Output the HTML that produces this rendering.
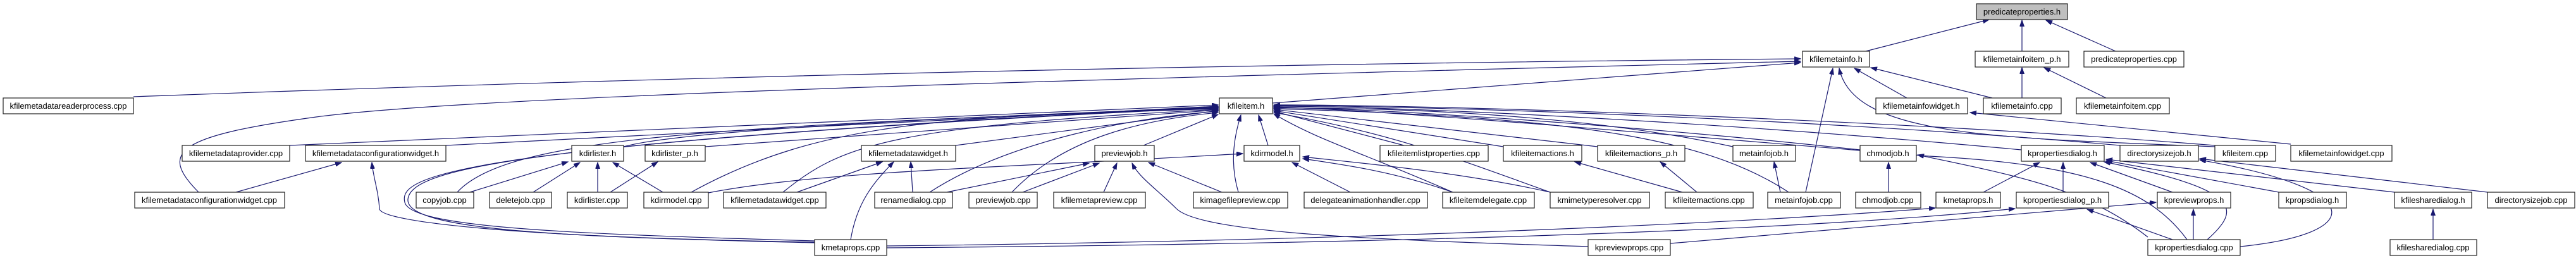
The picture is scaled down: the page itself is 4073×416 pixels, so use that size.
<!DOCTYPE html>
<html><head><meta charset="utf-8"><style>
html,body{margin:0;padding:0;background:#fff;}
svg text{font-family:"Liberation Sans",Arial,sans-serif;font-size:13px;fill:#000;text-anchor:middle;}
.n{fill:#fff;stroke:#222;stroke-width:1.2;}
.e{fill:none;stroke:#191970;stroke-width:1.2;marker-end:url(#a);}
</style></head><body>
<svg width="4073" height="411" viewBox="0 0 4073 411" xmlns="http://www.w3.org/2000/svg">
<defs><marker id="a" markerUnits="userSpaceOnUse" markerWidth="11" markerHeight="8" refX="10" refY="3.5" orient="auto"><path d="M0,0 L10,3.5 L0,7 z" fill="#191970" stroke="#191970"/></marker></defs>
<g>
<path class="e" d="M2950,81 L3145,31"/>
<path class="e" d="M3197,81 L3197,32"/>
<path class="e" d="M3345,81 L3235,32"/>
<path class="e" d="M3197,155 L3197,107"/>
<path class="e" d="M3330,155 L3232,107"/>
<path class="e" d="M3150,155 L2958,107"/>
<path class="e" d="M3015,155 L2932,108"/>
<path class="e" d="M2855,304 L2898,108"/>
<path class="e" d="M3502,232 C3150,218 2930,215 2908,108"/>
<path class="e" d="M2012,163 L2847,99"/>
<path class="e" d="M211,153 Q1500,105 2847,93"/>
<path class="e" d="M314,304 C250,240 280,215 500,185 S1500,130 2847,97"/>
<path class="e" d="M3622,228 L3115,178"/>
<!-- into kfileitem.h left -->
<path class="e" d="M458,230 L1926,166"/>
<path class="e" d="M705,230 L1926,168"/>
<path class="e" d="M986,232 Q1100,200 1926,170"/>
<path class="e" d="M723,304 C800,220 1100,200 1926,171"/>
<path class="e" d="M1093,304 C1300,190 1500,185 1926,172"/>
<path class="e" d="M1238,304 C1330,230 1400,200 1926,173"/>
<path class="e" d="M1115,232 L1926,174"/>
<path class="e" d="M1511,230 L1926,175"/>
<path class="e" d="M1470,304 C1600,220 1800,185 1926,176"/>
<path class="e" d="M1600,304 C1680,220 1800,190 1926,178"/>
<path class="e" d="M1808,230 L1926,181"/>
<path class="e" d="M1958,304 C1945,260 1950,220 1962,182"/>
<path class="e" d="M2005,230 L1990,182"/>
<path class="e" d="M1288,381 C900,370 650,360 640,320 C630,280 700,230 1926,169"/>
<path class="e" d="M1288,384 C900,375 640,365 645,315 C650,270 800,225 1926,170"/>
<path class="e" d="M1288,383 C800,375 600,350 600,330 C598,300 590,280 588,257"/>
<!-- into kfileitem.h right -->
<path class="e" d="M2220,230 L2014,176"/>
<path class="e" d="M2377,232 L2014,175"/>
<path class="e" d="M2526,232 L2014,173"/>
<path class="e" d="M2740,232 C2500,180 2200,170 2014,171"/>
<path class="e" d="M2941,237 C2600,200 2200,172 2014,170"/>
<path class="e" d="M2828,304 C2700,220 2500,185 2014,172"/>
<path class="e" d="M3196,237 C2800,200 2300,170 2014,168"/>
<path class="e" d="M3352,230 C2900,190 2300,168 2014,167"/>
<path class="e" d="M3502,230 C3000,190 2300,166 2014,166"/>
<path class="e" d="M2297,304 C2150,240 2080,220 2014,180"/>
<path class="e" d="M2451,304 C2300,250 2200,210 2014,178"/>
<path class="e" d="M3458,379 C3400,300 3300,260 3050,247 C2600,210 2200,175 2014,169"/>
<!-- kdirmodel.h -->
<path class="e" d="M1120,305 C1300,270 1600,265 1965,243"/>
<path class="e" d="M2135,304 L2043,257"/>
<path class="e" d="M2297,304 C2200,270 2120,260 2060,251"/>
<path class="e" d="M2451,304 C2300,270 2120,255 2060,248"/>
<!-- kdirlister.h -->
<path class="e" d="M743,304 L898,256"/>
<path class="e" d="M843,304 L917,257"/>
<path class="e" d="M945,304 L945,257"/>
<path class="e" d="M1048,304 L969,257"/>
<path class="e" d="M965,304 L1040,256"/>
<!-- kfilemetadataconfigurationwidget.h -->
<path class="e" d="M373,304 L540,257"/>
<!-- kfilemetadatawidget.h -->
<path class="e" d="M1260,304 L1395,256"/>
<path class="e" d="M1345,379 C1355,320 1380,290 1413,256"/>
<path class="e" d="M1443,304 L1440,256"/>
<!-- previewjob.h -->
<path class="e" d="M1497,304 L1722,258"/>
<path class="e" d="M1617,304 L1738,258"/>
<path class="e" d="M1745,304 L1766,258"/>
<path class="e" d="M2511,390 C2200,380 1900,370 1860,330 C1830,300 1800,280 1790,258"/>
<path class="e" d="M1932,304 L1816,257"/>
<!-- misc -->
<path class="e" d="M2660,304 L2490,256"/>
<path class="e" d="M2683,304 L2625,256"/>
<path class="e" d="M2815,304 L2805,256"/>
<path class="e" d="M2986,304 L2986,257"/>
<path class="e" d="M3396,375 C3300,300 3200,280 3032,245"/>
<path class="e" d="M1402,389 C2200,380 2800,350 3060,329"/>
<path class="e" d="M1402,392 C2300,385 2900,360 3186,330"/>
<path class="e" d="M2641,385 L3409,320"/>
<!-- kpropertiesdialog.h -->
<path class="e" d="M3136,304 L3225,257"/>
<path class="e" d="M3262,304 L3262,257"/>
<path class="e" d="M3435,304 L3305,257"/>
<path class="e" d="M3490,379 C3545,330 3545,300 3327,256"/>
<path class="e" d="M3603,304 L3330,254"/>
<path class="e" d="M3786,304 L3330,252"/>
<path class="e" d="M3933,304 L3478,251"/>
<path class="e" d="M3542,390 C3740,370 3750,300 3478,253"/>
<path class="e" d="M3435,379 L3300,331"/>
<path class="e" d="M3468,379 L3468,331"/>
<path class="e" d="M3847,379 L3847,331"/>
</g>
<g>
<rect x="3125" y="6" width="144" height="25" fill="#bfbfbf" stroke="#222" stroke-width="1.2"/><text x="3197" y="23">predicateproperties.h</text>
<rect class="n" x="2850" y="81" width="106" height="25"/><text x="2903" y="98">kfilemetainfo.h</text>
<rect class="n" x="3123" y="81" width="148" height="25"/><text x="3197" y="98">kfilemetainfoitem_p.h</text>
<rect class="n" x="3295" y="81" width="158" height="25"/><text x="3374" y="98">predicateproperties.cpp</text>
<rect class="n" x="5" y="155" width="206" height="25"/><text x="108" y="172">kfilemetadatareaderprocess.cpp</text>
<rect class="n" x="1928" y="155" width="84" height="25"/><text x="1970" y="172">kfileitem.h</text>
<rect class="n" x="2966" y="155" width="145" height="25"/><text x="3038" y="172">kfilemetainfowidget.h</text>
<rect class="n" x="3136" y="155" width="123" height="25"/><text x="3197" y="172">kfilemetainfo.cpp</text>
<rect class="n" x="3283" y="155" width="147" height="25"/><text x="3356" y="172">kfilemetainfoitem.cpp</text>

<rect class="n" x="288" y="230" width="170" height="25"/><text x="373" y="247">kfilemetadataprovider.cpp</text>
<rect class="n" x="483" y="230" width="222" height="25"/><text x="594" y="247">kfilemetadataconfigurationwidget.h</text>
<rect class="n" x="904" y="230" width="82" height="25"/><text x="945" y="247">kdirlister.h</text>
<rect class="n" x="1020" y="230" width="95" height="25"/><text x="1067" y="247">kdirlister_p.h</text>
<rect class="n" x="1362" y="230" width="149" height="25"/><text x="1436" y="247">kfilemetadatawidget.h</text>
<rect class="n" x="1731" y="230" width="94" height="25"/><text x="1778" y="247">previewjob.h</text>
<rect class="n" x="1967" y="230" width="88" height="25"/><text x="2011" y="247">kdirmodel.h</text>
<rect class="n" x="2182" y="230" width="171" height="25"/><text x="2267" y="247">kfileitemlistproperties.cpp</text>
<rect class="n" x="2377" y="230" width="124" height="25"/><text x="2439" y="247">kfileitemactions.h</text>
<rect class="n" x="2526" y="230" width="138" height="25"/><text x="2595" y="247">kfileitemactions_p.h</text>
<rect class="n" x="2740" y="230" width="99" height="25"/><text x="2789" y="247">metainfojob.h</text>
<rect class="n" x="2941" y="230" width="89" height="25"/><text x="2985" y="247">chmodjob.h</text>
<rect class="n" x="3196" y="230" width="131" height="25"/><text x="3261" y="247">kpropertiesdialog.h</text>
<rect class="n" x="3352" y="230" width="124" height="25"/><text x="3414" y="247">directorysizejob.h</text>
<rect class="n" x="3502" y="230" width="96" height="25"/><text x="3550" y="247">kfileitem.cpp</text>
<rect class="n" x="3622" y="230" width="160" height="25"/><text x="3702" y="247">kfilemetainfowidget.cpp</text>

<rect class="n" x="213" y="304" width="237" height="25"/><text x="331" y="321">kfilemetadataconfigurationwidget.cpp</text>
<rect class="n" x="658" y="304" width="91" height="25"/><text x="703" y="321">copyjob.cpp</text>
<rect class="n" x="774" y="304" width="98" height="25"/><text x="823" y="321">deletejob.cpp</text>
<rect class="n" x="897" y="304" width="95" height="25"/><text x="944" y="321">kdirlister.cpp</text>
<rect class="n" x="1018" y="304" width="102" height="25"/><text x="1069" y="321">kdirmodel.cpp</text>
<rect class="n" x="1144" y="304" width="162" height="25"/><text x="1225" y="321">kfilemetadatawidget.cpp</text>
<rect class="n" x="1383" y="304" width="123" height="25"/><text x="1444" y="321">renamedialog.cpp</text>
<rect class="n" x="1532" y="304" width="108" height="25"/><text x="1586" y="321">previewjob.cpp</text>
<rect class="n" x="1666" y="304" width="145" height="25"/><text x="1738" y="321">kfilemetapreview.cpp</text>
<rect class="n" x="1887" y="304" width="149" height="25"/><text x="1961" y="321">kimagefilepreview.cpp</text>
<rect class="n" x="2062" y="304" width="195" height="25"/><text x="2159" y="321">delegateanimationhandler.cpp</text>
<rect class="n" x="2281" y="304" width="145" height="25"/><text x="2353" y="321">kfileitemdelegate.cpp</text>
<rect class="n" x="2451" y="304" width="157" height="25"/><text x="2529" y="321">kmimetyperesolver.cpp</text>
<rect class="n" x="2633" y="304" width="139" height="25"/><text x="2702" y="321">kfileitemactions.cpp</text>
<rect class="n" x="2795" y="304" width="115" height="25"/><text x="2852" y="321">metainfojob.cpp</text>
<rect class="n" x="2934" y="304" width="103" height="25"/><text x="2985" y="321">chmodjob.cpp</text>
<rect class="n" x="3061" y="304" width="102" height="25"/><text x="3112" y="321">kmetaprops.h</text>
<rect class="n" x="3188" y="304" width="146" height="25"/><text x="3261" y="321">kpropertiesdialog_p.h</text>
<rect class="n" x="3411" y="304" width="116" height="25"/><text x="3469" y="321">kpreviewprops.h</text>
<rect class="n" x="3603" y="304" width="107" height="25"/><text x="3656" y="321">kpropsdialog.h</text>
<rect class="n" x="3786" y="304" width="122" height="25"/><text x="3847" y="321">kfilesharedialog.h</text>
<rect class="n" x="3933" y="304" width="138" height="25"/><text x="4002" y="321">directorysizejob.cpp</text>

<rect class="n" x="1288" y="379" width="114" height="25"/><text x="1345" y="396">kmetaprops.cpp</text>
<rect class="n" x="2511" y="379" width="130" height="25"/><text x="2576" y="396">kpreviewprops.cpp</text>
<rect class="n" x="3396" y="379" width="146" height="25"/><text x="3469" y="396">kpropertiesdialog.cpp</text>
<rect class="n" x="3779" y="379" width="137" height="25"/><text x="3847" y="396">kfilesharedialog.cpp</text>
</g>
</svg>
</body></html>
